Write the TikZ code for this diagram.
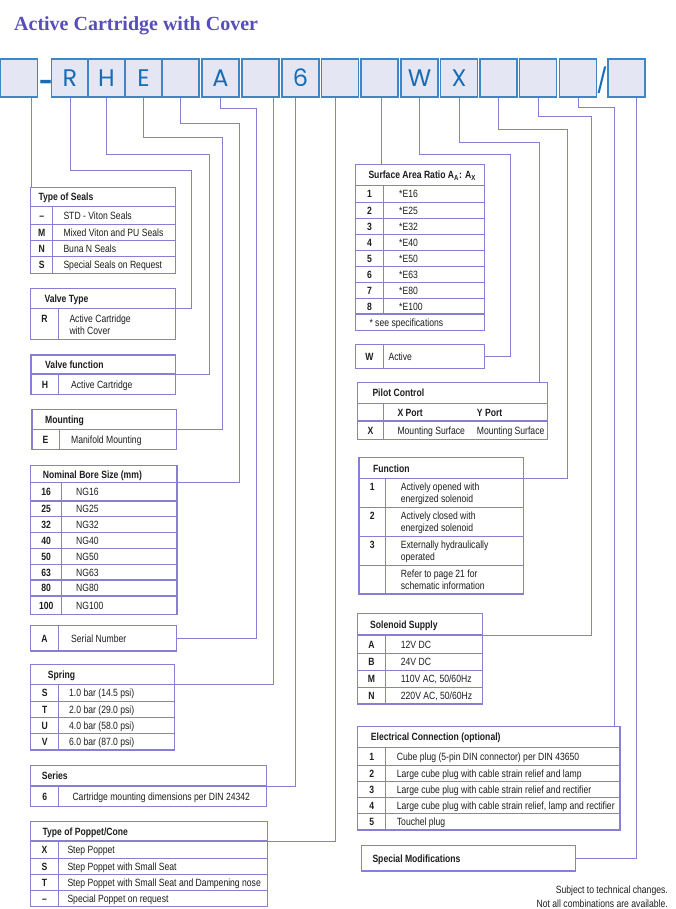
\documentclass[tikz,border=0pt]{standalone}
\usepackage{fontspec}
\usepackage{xcolor}
\usepackage{tikz}
\usetikzlibrary{positioning, calc}

\newfontfamily\tabfont{Liberation Sans}[FakeStretch=0.82]
\newfontfamily\codefont{Poppins}
\newfontfamily\titlefont{Liberation Serif}

\definecolor{lav}{RGB}{136,126,212}
\definecolor{codeline}{RGB}{62,134,200}
\definecolor{codefill}{RGB}{228,230,243}
\definecolor{codeblue}{RGB}{24,108,180}
\definecolor{titleblue}{RGB}{88,78,184}
\definecolor{txt}{RGB}{30,30,30}

\begin{document}
\begin{tikzpicture}[
    x=1pt, y=-1pt,
    tab/.style={draw=lav, line width=1.2pt},
    conn/.style={draw=lav, line width=0.9pt},
    digit/.style={draw=codeline, fill=codefill, line width=1.3pt, minimum width=37pt,
        minimum height=38pt, inner sep=0pt, text=codeblue, font=\codefont\fontsize{24}{24}\selectfont},
    hdr/.style={anchor=base west, yshift=-3.8pt, inner sep=0pt, text=txt,
        font=\tabfont\bfseries\fontsize{10.5}{12.2}\selectfont},
    key/.style={anchor=base, yshift=-3.8pt, inner sep=0pt, text=txt,
        font=\tabfont\bfseries\fontsize{10.5}{12.2}\selectfont},
    desc/.style={anchor=base west, yshift=-3.8pt, inner sep=0pt, text=txt,
        font=\tabfont\fontsize{10.5}{12.2}\selectfont},
    desc2/.style={anchor=north west, yshift=3.8pt, inner sep=0pt, align=left, text=txt,
        font=\tabfont\fontsize{10.5}{12.2}\selectfont}
]

\useasboundingbox (0,0) rectangle (675,909);

% --- 0. Title ---
\node[anchor=base west, inner sep=0pt, text=titleblue,
    font=\titlefont\bfseries\fontsize{20}{20}\selectfont] (title) at (14,31) {Active Cartridge with Cover};

% --- 1. Code boxes ---
\foreach \x/\t/\n in {19//b1, 70/R/b2, 106.5/H/b3, 143.5/E/b4, 180.5//b5, 220.5/A/b6,
    260.5//b7, 300.5/6/b8, 340//b9, 379.5//b10, 419.5/W/b11, 459/X/b12,
    498.5//b13, 538//b14, 578//b15, 626.5//b16}{
    \node[digit] (\n) at (\x,78) {\t};
}
\node[inner sep=0pt, text=codeblue, font=\codefont\bfseries\fontsize{24}{24}\selectfont] (dash) at (46,85) {-};
\node[inner sep=0pt, text=codeblue, font=\codefont\fontsize{24}{24}\selectfont] (slash) at (602,80) {/};

% --- 2. Attach points ---
\coordinate (sealsC)  at (31,187.3);
\coordinate (vtypeC)  at (175.7,308.3);
\coordinate (vfuncC)  at (175.7,374);
\coordinate (mountC)  at (176.3,429.3);
\coordinate (boreC)   at (177,482.7);
\coordinate (serialC) at (176.7,638.3);
\coordinate (springC) at (174.7,684.3);
\coordinate (seriesC) at (266.7,786);
\coordinate (poppetC) at (267.7,841);
\coordinate (ratioC)  at (381,164.3);
\coordinate (activeC) at (484.3,356.7);
\coordinate (pilotC)  at (539.3,382.7);
\coordinate (funcC)   at (523.7,478.7);
\coordinate (solC)    at (482.3,635);
\coordinate (elecC)   at (614.3,726.7);
\coordinate (specC)   at (575.7,858.3);

% --- 3. Connectors ---
\draw[conn] (b1.south -| sealsC) -- (sealsC);
\draw[conn] (b2.south) |- (191,170.7) |- (vtypeC);
\draw[conn] (b3.south) |- (209.3,154) |- (vfuncC);
\draw[conn] (b4.south) |- (222.3,137.3) |- (mountC);
\draw[conn] (b5.south) |- (239.3,123.3) |- (boreC);
\draw[conn] (b6.south) |- (256.7,108.3) |- (serialC);
\draw[conn] ([xshift=12.8pt]b7.south) |- (springC);
\draw[conn] ([xshift=-5.5pt]b8.south) |- (seriesC);
\draw[conn] ([xshift=-4.3pt]b9.south) |- (poppetC);
\draw[conn] (b10.south -| ratioC) -- (ratioC);
\draw[conn] (b11.south) |- (510,154) |- (activeC);
\draw[conn] (b12.south) |- (539.3,142.3) -- (pilotC);
\draw[conn] (b13.south) |- (567.3,129) |- (funcC);
\draw[conn] (b14.south) |- (591.7,116.7) |- (solC);
\draw[conn] (b15.south) |- (614.3,107.3) -- (elecC);
\draw[conn] ([xshift=9.5pt]b16.south) |- (specC);

% --- 4. Left tables ---
% Type of Seals
\draw[tab, fill=white] (30.7,187.3) rectangle (175.7,273.3);
\draw[tab] (30.7,206.7) -- (175.7,206.7) (52.7,206.7) -- (52.7,273.3);
\foreach \y in {224.3,240.7,256.7} \draw[tab] (30.7,\y) -- (175.7,\y);
\node[hdr] (seals) at (38.3,197) {Type of Seals};
\foreach \y/\k/\d [count=\i] in {215.5/–/STD - Viton Seals, 232.5/M/Mixed Viton and PU Seals,
    248.7/N/Buna N Seals, 265/S/Special Seals on Request}{
    \node[key] (seals-k\i) at (41.7,\y) {\k};
    \node[desc] (seals-d\i) at (63.3,\y) {\d};
}

% Valve Type
\draw[tab, fill=white] (30.7,288.3) rectangle (175.7,339.3);
\draw[tab] (30.7,308.3) -- (175.7,308.3) (58.3,308.3) -- (58.3,339.3);
\node[hdr] (vtype) at (44.3,298.3) {Valve Type};
\node[key] (vtype-k) at (44.5,318.3) {R};
\node[desc2] (vtype-d) at (69.3,318.3) {Active Cartridge\\with Cover};

% Valve function
\draw[tab, fill=white] (31,355) rectangle (175.7,394.3);
\draw[tab] (31,374) -- (175.7,374) (58.7,374) -- (58.7,394.3);
\node[hdr] (vfunc) at (45,364.5) {Valve function};
\node[key] (vfunc-k) at (45,384.2) {H};
\node[desc] (vfunc-d) at (71,384.2) {Active Cartridge};

% Mounting
\draw[tab, fill=white] (32,409.3) rectangle (176.3,449.3);
\draw[tab] (32,429.3) -- (176.3,429.3) (59.3,429.3) -- (59.3,449.3);
\node[hdr] (mount) at (45,419.3) {Mounting};
\node[key] (mount-k) at (45.6,439.3) {E};
\node[desc] (mount-d) at (71,439.3) {Manifold Mounting};

% Nominal Bore Size
\draw[tab, fill=white] (30.7,465.7) rectangle (177,614.3);
\draw[tab] (30.7,482.7) -- (177,482.7) (61.7,482.7) -- (61.7,614.3);
\foreach \y in {501,516.7,532.7,548.7,564.3,580,596} \draw[tab] (30.7,\y) -- (177,\y);
\node[hdr] (bore) at (42.7,474.2) {Nominal Bore Size (mm)};
\foreach \y/\k [count=\i] in {491.8/16, 508.8/25, 524.7/32, 540.7/40,
    556.5/50, 572.2/63, 588/80, 605.2/100}{
    \node[key] (bore-k\i) at (46.2,\y) {\k};
    \node[desc] (bore-d\i) at (76,\y) {NG\k};
}

% Serial Number
\draw[tab, fill=white] (30.7,625.7) rectangle (176.7,651);
\draw[tab] (58.3,625.7) -- (58.3,651);
\node[key] (serial-k) at (44.5,638.3) {A};
\node[desc] (serial) at (71,638.3) {Serial Number};

% Spring
\draw[tab, fill=white] (30.7,664.3) rectangle (174.7,750);
\draw[tab] (30.7,684.3) -- (174.7,684.3) (58.7,684.3) -- (58.7,750);
\foreach \y in {701.7,717.7,733.3} \draw[tab] (30.7,\y) -- (174.7,\y);
\node[hdr] (spring) at (47.7,674.3) {Spring};
\foreach \y/\k/\d [count=\i] in {693/S/1.0 bar (14.5 psi), 709.7/T/2.0 bar (29.0 psi),
    725.5/U/4.0 bar (58.0 psi), 741.7/V/6.0 bar (87.0 psi)}{
    \node[key] (spring-k\i) at (44.7,\y) {\k};
    \node[desc] (spring-d\i) at (69,\y) {\d};
}

% Series
\draw[tab, fill=white] (30.7,765.7) rectangle (266.7,806.7);
\draw[tab] (30.7,786) -- (266.7,786) (58.7,786) -- (58.7,806.7);
\node[hdr] (series) at (41.7,775.8) {Series};
\node[key] (series-k) at (44.7,796.3) {6};
\node[desc] (series-d) at (72.3,796.3) {Cartridge mounting dimensions per DIN 24342};

% Type of Poppet/Cone
\draw[tab, fill=white] (30.7,821.7) rectangle (267.7,906.7);
\draw[tab] (30.7,841) -- (267.7,841) (58.3,841) -- (58.3,906.7);
\foreach \y in {858.7,874.3,890.7} \draw[tab] (30.7,\y) -- (267.7,\y);
\node[hdr] (poppet) at (42.3,831.3) {Type of Poppet/Cone};
\foreach \y/\k/\d [count=\i] in {849.8/X/Step Poppet, 866.5/S/Step Poppet with Small Seat,
    882.5/T/Step Poppet with Small Seat and Dampening nose, 898.7/–/Special Poppet on request}{
    \node[key] (poppet-k\i) at (44.5,\y) {\k};
    \node[desc] (poppet-d\i) at (67.3,\y) {\d};
}

% --- 5. Right tables ---
% Surface Area Ratio
\draw[tab, fill=white] (355.7,164.3) rectangle (484.3,330.3);
\draw[tab] (355.7,185.7) -- (484.3,185.7) (383.3,185.7) -- (383.3,314);
\foreach \y in {202.7,218.7,234.7,250.7,266.7,282.3,298.3,314} \draw[tab] (355.7,\y) -- (484.3,\y);
\node[hdr] (ratio) at (368.3,175) {Surface Area Ratio A\textsubscript{A}: A\textsubscript{X}};
\foreach \y/\k/\d [count=\i] in {194.2/1/16, 210.7/2/25, 226.7/3/32, 242.7/4/40,
    258.7/5/50, 274.5/6/63, 290.3/7/80, 306.2/8/100}{
    \node[key] (ratio-k\i) at (369.5,\y) {\k};
    \node[desc] (ratio-d\i) at (399,\y) {*E\d};
}
\node[desc] (ratio-note) at (369.3,322.2) {* see specifications};

% Active
\draw[tab, fill=white] (355.7,344.3) rectangle (484.3,368.3);
\draw[tab] (383.3,344.3) -- (383.3,368.3);
\node[key] (active-k) at (369.5,356.3) {W};
\node[desc] (active) at (388.3,356.3) {Active};

% Pilot Control
\draw[tab, fill=white] (357.3,382.7) rectangle (547.3,439.3);
\draw[tab] (357.3,403.3) -- (547.3,403.3) (357.3,421) -- (547.3,421) (383.7,403.3) -- (383.7,439.3);
\node[hdr] (pilot) at (372.3,393) {Pilot Control};
\node[hdr] (pilot-x) at (397.3,412.2) {X Port};
\node[hdr] (pilot-y) at (476.7,412.2) {Y Port};
\node[key] (pilot-k) at (370.5,430.2) {X};
\node[desc] (pilot-d1) at (397.3,430.2) {Mounting Surface};
\node[desc] (pilot-d2) at (476.7,430.2) {Mounting Surface};

% Function
\draw[tab, fill=white] (359,457.7) rectangle (523.7,594);
\draw[tab] (359,478.7) -- (523.7,478.7) (385.7,478.7) -- (385.7,594);
\foreach \y in {507.7,536.3,565.3} \draw[tab] (359,\y) -- (523.7,\y);
\node[hdr] (func) at (373,468.2) {Function};
\foreach \y/\k/\d [count=\i] in {486.7/1/{Actively opened with\\energized solenoid},
    515.3/2/{Actively closed with\\energized solenoid},
    544.3/3/{Externally hydraulically\\operated},
    573.3//{Refer to page 21 for\\schematic information}}{
    \node[key] (func-k\i) at (372.3,\y) {\k};
    \node[desc2] (func-d\i) at (400.7,\y) {\d};
}

% Solenoid Supply
\draw[tab, fill=white] (357.3,613.3) rectangle (482.3,704);
\draw[tab] (357.3,635) -- (482.3,635) (385.7,635) -- (385.7,704);
\foreach \y in {653.3,670.3,687.3} \draw[tab] (357.3,\y) -- (482.3,\y);
\node[hdr] (sol) at (370,624.2) {Solenoid Supply};
\foreach \y/\k/\d [count=\i] in {644.2/A/12V DC, 661.8/B/24V DC,
    678.8/M/{110V AC, 50/60Hz}, 695.7/N/{220V AC, 50/60Hz}}{
    \node[key] (sol-k\i) at (371.5,\y) {\k};
    \node[desc] (sol-d\i) at (400.7,\y) {\d};
}

% Electrical Connection
\draw[tab, fill=white] (357.7,726.7) rectangle (620,830);
\draw[tab] (357.7,747.3) -- (620,747.3) (385.7,747.3) -- (385.7,830);
\foreach \y in {765.7,781.7,797.7,813.7} \draw[tab] (357.7,\y) -- (620,\y);
\node[hdr] (elec) at (370.7,737) {Electrical Connection (optional)};
\foreach \y/\k/\d [count=\i] in {756.5/1/Cube plug (5-pin DIN connector) per DIN 43650,
    773.7/2/Large cube plug with cable strain relief and lamp,
    789.7/3/Large cube plug with cable strain relief and rectifier,
    805.7/4/{Large cube plug with cable strain relief, lamp and rectifier},
    821.8/5/Touchel plug}{
    \node[key] (elec-k\i) at (371.7,\y) {\k};
    \node[desc] (elec-d\i) at (396.7,\y) {\d};
}

% Special Modifications
\draw[tab, fill=white] (361.7,845.7) rectangle (575.7,871);
\node[hdr] (spec) at (372.3,858.3) {Special Modifications};

% --- 6. Footnote ---
\node[desc, anchor=base east] (note1) at (668,890) {Subject to technical changes.};
\node[desc, anchor=base east] (note2) at (668,904) {Not all combinations are available.};

\end{tikzpicture}
\end{document}
